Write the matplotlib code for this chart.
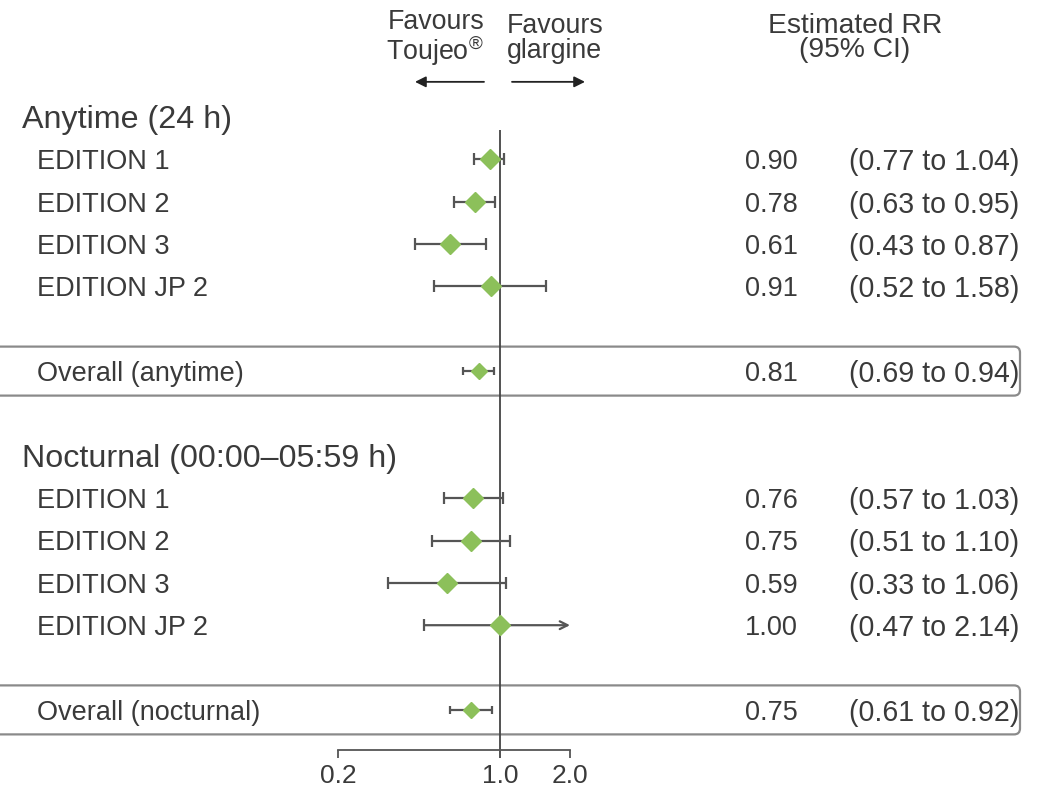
import matplotlib
matplotlib.use("Agg")
import matplotlib.pyplot as plt
from matplotlib import transforms
from matplotlib.patches import FancyBboxPatch
import numpy as np

plt.rcParams["font.family"] = ["Liberation Sans", "DejaVu Sans"]
plt.rcParams["mathtext.fontset"] = "custom"
plt.rcParams["mathtext.rm"] = "Liberation Sans"

# data
studies = ["EDITION 1", "EDITION 2", "EDITION 3", "EDITION JP 2"]
anytime_rr = [0.90, 0.78, 0.61, 0.91]
anytime_lo = [0.77, 0.63, 0.43, 0.52]
anytime_hi = [1.04, 0.95, 0.87, 1.58]
anytime_overall = (0.81, 0.69, 0.94)

nocturnal_rr = [0.76, 0.75, 0.59, 1.00]
nocturnal_lo = [0.57, 0.51, 0.33, 0.47]
nocturnal_hi = [1.03, 1.10, 1.06, 2.14]
nocturnal_overall = (0.75, 0.61, 0.92)

groups = [
    ("Anytime (24 h)", "Overall (anytime)", anytime_rr, anytime_lo, anytime_hi, anytime_overall),
    ("Nocturnal (00:00\u201305:59 h)", "Overall (nocturnal)", nocturnal_rr, nocturnal_lo, nocturnal_hi, nocturnal_overall),
]

xticks = [0.2, 1.0, 2.0]
xticklabels = ["0.2", "1.0", "2.0"]

W, H = 1063, 789
TXT = "#3a3a3a"
LINE = "#555555"
GREEN = "#8cc05a"
FS = 19.5
FS_CI = 20.6
DY = 0.07  # nudge text down to sit centred on the row

fig = plt.figure(figsize=(W / 100, H / 100), dpi=100)
ax = fig.add_axes([0, 0, 1, 1])
ax.set_xscale("log")
ax.axis("off")

# pixel anchors for the log axis (0.2 -> 338 px, 2.0 -> 570 px)
x0_px, x1_px = 338, 570
dec = (x1_px - x0_px) / np.log10(xticks[-1] / xticks[0])
ax.set_xlim(10 ** (np.log10(0.2) - x0_px / dec), 10 ** (np.log10(2.0) + (W - x1_px) / dec))
row_h, row0_px = 42.35, 117
ax.set_ylim((H - row0_px) / row_h, -row0_px / row_h)

tr = transforms.blended_transform_factory(fig.transFigure, ax.transData)

def fx(p):
    return p / W

def row_text(row, label, r, l, h):
    ax.text(fx(37), row + DY, label, transform=tr, fontsize=FS, color=TXT, va="center")
    ax.text(fx(798), row + DY, f"{r:.2f}", transform=tr, fontsize=FS, color=TXT, va="center", ha="right")
    ax.text(fx(849), row + DY, f"({l:.2f} to {h:.2f})", transform=tr, fontsize=FS_CI, color=TXT, va="center")

row = 0
for header, overall_lbl, rr, lo, hi, ov in groups:
    ax.text(fx(22), row + DY, header, transform=tr, fontsize=23.2, color=TXT, va="center")
    row += 1
    for name, r, l, h in zip(studies, rr, lo, hi):
        row_text(row, name, r, l, h)
        if h <= xticks[-1]:
            ax.hlines(row, l, h, color=LINE, lw=1.6, zorder=3)
            ax.plot([l, h], [row, row], ls="none", marker="|", ms=8, mew=1.6, color=LINE, zorder=3)
        else:
            ax.annotate("", xy=(xticks[-1], row), xytext=(l, row),
                        arrowprops=dict(arrowstyle="->", color=LINE, lw=1.6, shrinkA=0, shrinkB=0,
                                        mutation_scale=14), zorder=3)
            ax.plot([l], [row], ls="none", marker="|", ms=8, mew=1.6, color=LINE, zorder=3)
        ax.plot([r], [row], ls="none", marker="D", ms=10, color=GREEN, mec=GREEN, zorder=4)
        row += 1
    row += 1
    r, l, h = ov
    row_text(row, overall_lbl, r, l, h)
    ax.hlines(row, l, h, color=LINE, lw=1.6, zorder=3)
    ax.plot([l, h], [row, row], ls="none", marker="|", ms=6, mew=1.6, color=LINE, zorder=3)
    ax.plot([r], [row], ls="none", marker="D", ms=8, color=GREEN, mec=GREEN, zorder=4)
    # rounded box around the overall row
    yc = ax.transData.transform((1, row))[1]
    box = FancyBboxPatch((-12, yc - 24.5), 1020 + 12, 49,
                         boxstyle="round,pad=0,rounding_size=6",
                         transform=transforms.IdentityTransform(),
                         fc="none", ec="#8a8a8a", lw=1.6, zorder=1, clip_on=False)
    ax.add_patch(box)
    row += 2

# line of no effect
axis_row = (750 - row0_px) / row_h
ax.vlines(1.0, 0.3, axis_row + 0.19, color="#444444", lw=1.3, zorder=2)

# header texts and arrows
ax.text(fx(484), -1.86, "Favours\nToujeo$^{\u00ae}$", transform=tr, fontsize=19.3, color=TXT,
        ha="right", va="center", linespacing=0.95)
ax.text(fx(507), -1.86, "Favours\nglargine", transform=tr, fontsize=19.3, color=TXT,
        ha="left", va="center", linespacing=0.95)
ax.text(fx(855), -1.86, "Estimated RR\n(95% CI)", transform=tr, fontsize=20.3, color=TXT,
        ha="center", va="center", linespacing=0.92)
arr = dict(arrowstyle="-|>", color="#222222", lw=1.3, shrinkA=0, shrinkB=0, mutation_scale=16)
ax.annotate("", xy=(fx(415), -0.83), xytext=(fx(484), -0.83), xycoords=tr, textcoords=tr, arrowprops=arr)
ax.annotate("", xy=(fx(585), -0.83), xytext=(fx(512), -0.83), xycoords=tr, textcoords=tr, arrowprops=arr)

# bottom axis
ax2 = fig.add_axes([x0_px / W, (H - 750) / H, (x1_px - x0_px) / W, 0.001])
ax2.set_xscale("log")
ax2.set_xlim(xticks[0], xticks[-1])
ax2.patch.set_visible(False)
for s in ["top", "left", "right"]:
    ax2.spines[s].set_visible(False)
ax2.spines["bottom"].set_color(LINE)
ax2.spines["bottom"].set_linewidth(1.3)
ax2.set_yticks([])
ax2.set_xticks(xticks)
ax2.set_xticklabels(xticklabels)
ax2.xaxis.set_minor_locator(matplotlib.ticker.NullLocator())
ax2.tick_params(axis="x", direction="out", length=6, width=1.3, color=LINE,
                labelsize=19, labelcolor=TXT, pad=4)

fig.savefig("out.png", dpi=100)
